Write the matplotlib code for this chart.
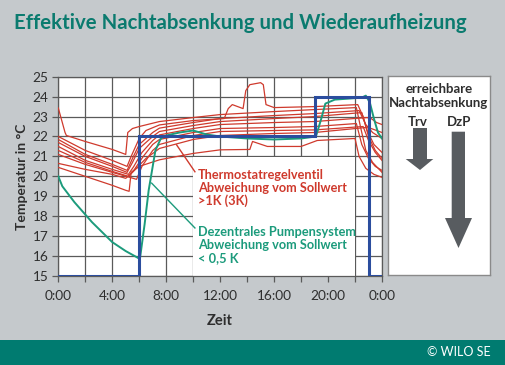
import matplotlib
matplotlib.use("Agg")
import matplotlib.pyplot as plt
from matplotlib.patches import Rectangle, Polygon

# ---------------- data ----------------
x_ticks = [0, 4, 8, 12, 16, 20, 24]
x_tick_labels = ["0:00", "4:00", "8:00", "12:00", "16:00", "20:00", "0:00"]
y_ticks = [15, 16, 17, 18, 19, 20, 21, 22, 23, 24, 25]

# Sollwert (setpoint) of the decentral pump system
blue_h = [0, 6, 6, 19.05, 19.05, 23.0, 23.0, 24]
blue_t = [15, 15, 22, 22, 24, 24, 15, 15]

# Decentral pump system room temperature
green_h = [0, 0.3, 1.2, 2.5, 4, 5, 5.8, 6.05, 6.4, 6.7, 7.2, 7.6, 8, 9, 10, 11, 12,
           14, 16, 18, 19.1, 19.5, 19.8, 20.5, 21.5, 22.5, 22.8, 23.1, 23.4, 23.7, 24]
green_t = [20.0, 19.5, 18.7, 17.7, 16.7, 16.25, 15.95, 15.85, 17.6, 19.3, 21.3, 21.9, 22.05,
           22.2, 22.3, 22.1, 22.0, 21.9, 21.85, 21.9, 22.0, 22.9, 23.65, 23.85, 23.9, 23.95,
           24.05, 23.7, 22.9, 22.2, 21.9]

# Thermostatic valve room temperatures (several rooms)
red_series = [
    ([0, 0.5, 0.6, 2, 4, 5.0, 5.15, 5.5, 6, 7.5, 10, 12, 16, 19, 22.1, 22.4, 22.8, 23.3, 24],
     [23.43, 22.2, 22.05, 21.75, 21.35, 21.1, 22.2, 22.4, 22.5, 22.75, 22.95, 23.1, 23.25, 23.35, 23.45, 22.5, 21.3, 20.7, 20.2]),
    ([0, 2, 4, 5.1, 5.4, 6, 6.5, 7.5, 10, 12.3, 12.6, 12.9, 13.7, 13.9, 14.2, 15.0, 15.2, 15.4, 16, 19, 22.2, 22.6, 23.0, 23.5, 24],
     [22.0, 21.3, 20.8, 20.5, 21.0, 21.9, 22.3, 22.58, 22.8, 22.9, 23.4, 23.6, 23.4, 24.3, 24.6, 24.7, 24.6, 23.6, 23.45, 23.5, 23.6, 23.0, 22.0, 21.3, 20.9]),
    ([0, 2, 4, 5.1, 5.5, 6, 7, 7.5, 10, 12, 16, 19, 22.3, 22.8, 23.3, 24],
     [21.85, 21.1, 20.6, 20.3, 20.9, 21.6, 22.2, 22.42, 22.7, 22.9, 23.05, 23.15, 23.3, 22.6, 22.2, 21.9]),
    ([0, 2, 4, 5.1, 5.5, 6, 7, 7.5, 10, 12, 16, 19, 22.5, 22.9, 23.4, 24],
     [21.7, 21.0, 20.5, 20.2, 20.7, 21.4, 22.0, 22.25, 22.55, 22.75, 22.9, 23.0, 23.2, 22.3, 21.6, 21.2]),
    ([0, 2, 4, 5.2, 5.6, 6.2, 7, 7.5, 10, 12, 16, 19, 22.9, 23.2, 23.6, 24],
     [21.5, 20.8, 20.35, 20.1, 20.5, 21.2, 21.8, 22.08, 22.4, 22.6, 22.7, 22.75, 22.95, 22.9, 22.7, 22.6]),
    ([0, 2, 4, 5.2, 5.6, 6.3, 7, 7.5, 10, 12, 16, 19, 22.1, 22.5, 23.0, 23.5, 24],
     [21.3, 20.7, 20.25, 20.0, 20.3, 21.0, 21.6, 21.85, 22.2, 22.4, 22.45, 22.5, 22.65, 21.6, 20.9, 20.5, 20.3]),
    ([0, 2, 4, 5.3, 5.8, 6.2, 7, 7.5, 10, 12, 16, 19, 22.6, 23.0, 23.5, 24],
     [21.1, 20.6, 20.2, 19.95, 19.85, 20.5, 21.3, 21.6, 22.05, 22.25, 22.3, 22.33, 22.5, 21.8, 21.2, 20.8]),
    ([0, 2, 4, 5.0, 5.5, 6.5, 7.5, 10, 12, 16, 19, 22.8, 23.2, 24],
     [20.65, 20.35, 20.1, 19.9, 20.2, 20.9, 21.4, 21.85, 22.05, 22.15, 22.2, 22.45, 22.4, 22.2]),
    ([0, 2, 4, 5.0, 5.25, 5.4, 6, 7.5, 10, 12, 14.2, 14.4, 15.5, 18, 19.2, 22.0, 22.3, 22.8, 23.4, 24],
     [20.45, 20.0, 19.55, 19.3, 19.25, 20.2, 20.5, 20.83, 21.15, 21.33, 21.35, 21.75, 21.5, 21.5, 21.8, 21.9, 21.0, 20.4, 20.1, 19.95]),
]

title = "Effektive Nachtabsenkung und Wiederaufheizung"
red_label = "Thermostatregelventil\nAbweichung vom Sollwert\n>1K (3K)"
green_label = "Dezentrales Pumpensystem\nAbweichung vom Sollwert\n< 0,5 K"

# ---------------- style ----------------
BG = "#c5c9cc"
TEAL = "#0b7b6f"
RED = "#cf3a2d"
GREEN = "#1c9b7c"
BLUE = "#2b4d9e"
GRID = "#5a5a5a"
TXT = "#2e2e2e"
FONT = ["Lato", "DejaVu Sans"]
plt.rcParams["font.family"] = FONT

fig = plt.figure(figsize=(5.06, 3.65), dpi=100, facecolor=BG)

# bottom band
fig.patches.append(Rectangle((0, 0), 1, 25 / 365, transform=fig.transFigure,
                             facecolor="#007b70", edgecolor="none", zorder=0))
fig.text(491 / 506, 1 - 352 / 365, "© WILO SE", color="white", fontsize=9,
         ha="right", va="center")

fig.text(14 / 506, 1 - 23 / 365, title, color=TEAL, fontsize=14.7,
         fontweight="bold", ha="left", va="center")

ax = fig.add_axes([58.3 / 506, 1 - 276 / 365, 323.7 / 506, 199.3 / 365])
ax.set_facecolor("white")
ax.set_xlim(0, 24)
ax.set_ylim(15, 25)
ax.set_xticks(x_ticks)
ax.set_xticklabels(x_tick_labels)
ax.set_xticks(range(0, 25, 2), minor=True)
ax.set_yticks(y_ticks)
ax.grid(True, which="both", color=GRID, lw=0.9)
ax.set_axisbelow(True)
for s in ax.spines.values():
    s.set_color(GRID)
    s.set_linewidth(0.9)
ax.tick_params(axis="both", which="both", direction="out", length=4,
               color=GRID, width=0.9, labelcolor=TXT, labelsize=9.8, pad=3)
ax.tick_params(axis="x", which="major", pad=6)

# white annotation area
ax.add_patch(Rectangle((10, 15), 11.97, 5.97, facecolor="white",
                       edgecolor="none", zorder=1))

for hh, tt in red_series:
    ax.plot(hh, tt, color=RED, lw=0.9, zorder=3)
ax.plot(green_h, green_t, color=GREEN, lw=1.4, zorder=4)
ax.plot(blue_h, blue_t, color=BLUE, lw=2.2, zorder=5, solid_joinstyle="miter")

# annotation pointers
ax.plot([8.77, 10.13], [21.58, 20.23], color=RED, lw=1.0, zorder=3)
ax.plot([6.92, 10.13], [19.66, 17.41], color=GREEN, lw=1.0, zorder=3)
ax.text(10.35, 19.40, red_label, color=RED, fontsize=9.2, fontweight="bold",
        ha="left", va="center", linespacing=1.08, zorder=6)
ax.text(10.35, 16.56, green_label, color=GREEN, fontsize=9.2, fontweight="bold",
        ha="left", va="center", linespacing=1.08, zorder=6)

ax.set_ylabel("Temperatur in °C", fontsize=10, fontweight="bold", color=TXT,
              labelpad=3)
ax.set_xlabel("Zeit", fontsize=10.5, fontweight="bold", color=TXT, labelpad=9)

# right info box
bx = fig.add_axes([388 / 506, 1 - 275 / 365, 102 / 506, 199 / 365])
bx.set_xlim(0, 102)
bx.set_ylim(199, 0)
bx.set_xticks([])
bx.set_yticks([])
bx.set_facecolor("white")
for s in bx.spines.values():
    s.set_color("#8a8a8a")
    s.set_linewidth(1.0)
bx.text(51, 13, "erreichbare", ha="center", va="center", fontsize=9.5,
        fontweight="bold", color=TXT)
bx.text(51, 27, "Nachtabsenkung", ha="center", va="center", fontsize=9.5,
        fontweight="bold", color=TXT)
bx.text(30, 46, "Trv", ha="center", va="center", fontsize=9.5,
        fontweight="bold", color=TXT)
bx.text(71, 46, "DzP", ha="center", va="center", fontsize=9.5,
        fontweight="bold", color=TXT)
ARROW = "#585c60"
bx.add_patch(Polygon([(25, 52), (39, 52), (39, 83), (45.3, 83), (32, 94),
                      (17.7, 83), (25, 83)], closed=True, facecolor=ARROW,
                     edgecolor="none"))
bx.add_patch(Polygon([(63.7, 55.7), (77, 55.7), (77, 142), (84, 142), (70.5, 172),
                      (57, 142), (63.7, 142)], closed=True, facecolor=ARROW,
                     edgecolor="none"))

fig.savefig("out.png", dpi=100, facecolor=BG)
